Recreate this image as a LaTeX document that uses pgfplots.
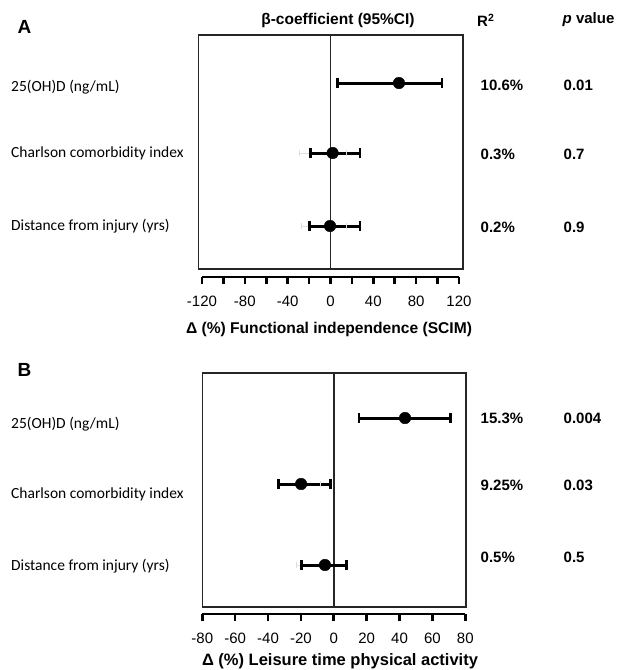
\documentclass[border=0pt]{standalone}
\usepackage{fontspec}
\setmainfont{Liberation Sans}
\newfontfamily\calibri{Carlito}
\usepackage{pgfplots}
\pgfplotsset{compat=1.18}
\begin{document}
\begin{tikzpicture}[x=1pt,y=1pt]
\useasboundingbox (0,0) rectangle (617,-670);
\pgfplotsset{
  boxax/.style={scale only axis, xtick=\empty, ytick=\empty,
    axis line style={line width=1.3pt, black!85}, clip=false},
  ci/.style={black, line width=3pt, mark=|, mark size=4.8pt,
    mark options={line width=2.8pt, solid}},
  fci/.style={black!13, line width=1pt, mark=|, mark size=3pt,
    mark options={line width=1pt, solid}},
  dot/.style={black, only marks, mark=*, mark size=5.8pt},
  tickax/.style={scale only axis, height=1pt, ymin=0, ymax=1,
    hide y axis, axis x line*=bottom,
    x axis line style={line width=2.6pt, -},
    tick align=outside, major tick length=7pt, minor tick length=7pt,
    every tick/.style={line width=2.6pt, black},
    xticklabel style={font=\fontsize{15}{17}\selectfont, yshift=-8pt}},
}
% ---------- Panel A ----------
\begin{axis}[boxax, at={(198.3pt,-269pt)}, anchor=south west,
  width=264.7pt, height=234pt, xmin=-123.7, xmax=123.6, ymin=-269, ymax=-35]
\addplot[black!85, line width=1.3pt] coordinates {(0,-269) (0,-35)};
\addplot[fci] coordinates {(-28.7,-153) (15.2,-153)};
\addplot[fci] coordinates {(-27,-226) (15,-226)};
\addplot[ci] coordinates {(6.6,-83) (104,-83)};
\addplot[ci] coordinates {(-18.7,-153) (27.4,-153)};
\addplot[ci] coordinates {(-20,-226) (27.4,-226)};
\addplot[dot] coordinates {(63.8,-83) (1.8,-153) (-0.6,-226)};
\end{axis}
\begin{axis}[tickax, at={(202pt,-277pt)}, anchor=south west,
  width=257pt, xmin=-120, xmax=120,
  xtick={-120,-80,-40,0,40,80,120},
  xticklabels={-120,-80,-40,0,40,80,120},
  minor xtick={-100,-60,-20,20,60,100}]
\addplot[draw=none] coordinates {(0,0)};
\end{axis}
% ---------- Panel B ----------
\begin{axis}[boxax, at={(202.3pt,-607pt)}, anchor=south west,
  width=263.7pt, height=234pt, xmin=-80.1, xmax=80.3, ymin=-607, ymax=-373]
\addplot[black!85, line width=1.3pt] coordinates {(0,-607) (0,-373)};
\addplot[fci] coordinates {(-20,-484) (-8,-484)};
\addplot[fci] coordinates {(-23,-565) (7,-565)};
\addplot[ci] coordinates {(15.2,-418) (71,-418)};
\addplot[ci] coordinates {(-33.9,-484) (-2,-484)};
\addplot[ci] coordinates {(-20,-565) (7.7,-565)};
\addplot[dot] coordinates {(43.2,-418) (-20,-484) (-5.5,-565)};
\end{axis}
\begin{axis}[tickax, at={(202.3pt,-614pt)}, anchor=south west,
  width=263pt, xmin=-80, xmax=80,
  xtick={-80,-60,-40,-20,0,20,40,60,80},
  xticklabels={-80,-60,-40,-20,0,20,40,60,80}]
\addplot[draw=none] coordinates {(0,0)};
\end{axis}
% ---------- Texts ----------
\node[anchor=west, font=\fontsize{19}{21}\selectfont\bfseries] at (14,-27) {A};
\node[anchor=west, font=\fontsize{19}{21}\selectfont\bfseries] at (14,-370) {B};
\node[font=\fontsize{15.5}{17}\selectfont\bfseries] at (338,-20) {β-coefficient (95\%CI)};
\node[anchor=west, inner sep=0pt, font=\fontsize{15}{17}\selectfont\bfseries] at (477,-20) {R\textsuperscript{2}};
\node[anchor=west, inner sep=0pt, font=\fontsize{15}{17}\selectfont\bfseries] at (562.5,-20) {\textit{p} value};
\foreach \y/\t in {-86.7/{25(OH)D (ng/mL)}, -153/{Charlson comorbidity index}, -225.7/{Distance from injury (yrs)},
                   -424/{25(OH)D (ng/mL)}, -494/{Charlson comorbidity index}, -566/{Distance from injury (yrs)}}
  \node[anchor=west, font=\calibri\fontsize{15.5}{17}\selectfont, inner sep=0pt] at (11,\y) {\t};
\foreach \y/\r/\p in {-85/10.6\%/0.01, -154/0.3\%/0.7, -227/0.2\%/0.9,
                      -418/15.3\%/0.004, -485/9.25\%/0.03, -557/0.5\%/0.5} {
  \node[anchor=west, inner sep=0pt, font=\fontsize{15}{17}\selectfont\bfseries] at (480.5,\y) {\r};
  \node[anchor=west, inner sep=0pt, font=\fontsize{15}{17}\selectfont\bfseries] at (563.5,\y) {\p};
}
\node[font=\fontsize{15.6}{18}\selectfont\bfseries] at (329,-329) {Δ (\%) Functional independence (SCIM)};
\node[font=\fontsize{16.5}{19}\selectfont\bfseries] at (340,-661) {Δ (\%) Leisure time physical activity};
\end{tikzpicture}
\end{document}
